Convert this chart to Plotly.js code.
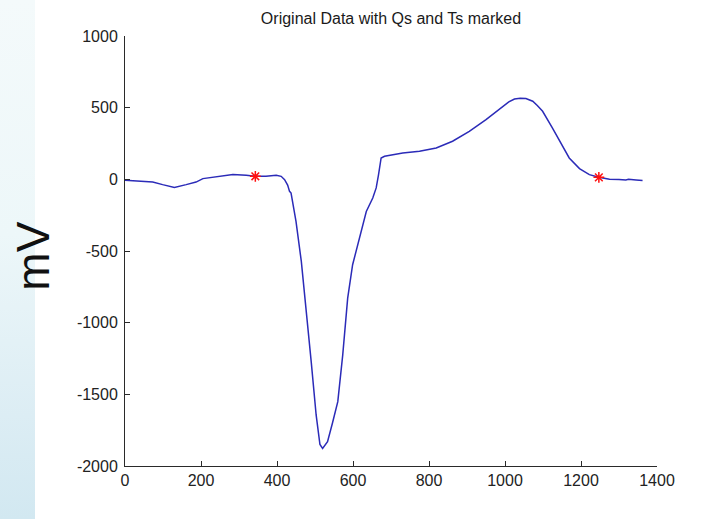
<!DOCTYPE html>
<html>
<head>
<meta charset="utf-8">
<script src="https://cdn.plot.ly/plotly-3.0.1.min.js"></script>
<style>
  html, body { margin: 0; padding: 0; background: #ffffff; }
  #strip { position: absolute; left: 0; top: 0; width: 35px; height: 519px;
    background: linear-gradient(to bottom, #f4fafb 0%, #edf7f9 45%, #dcedf4 80%, #d2e8f1 100%); }
  #chart { position: absolute; left: 0; top: 0; width: 721px; height: 519px; }
</style>
</head>
<body>
<div id="strip"></div>
<div id="chart"></div>
<script>
// ECG signal samples
const sampleX = [0, 20, 47, 73, 99, 130, 161, 187, 205, 231, 257, 284, 319, 342, 371, 398, 411, 420, 428, 433,
  437, 443, 450, 464, 477, 490, 503, 513, 520, 533, 546, 560, 573, 586, 599, 617, 635, 652, 661, 667, 674,
  683, 700, 731, 775, 819, 862, 906, 950, 994, 1010, 1025, 1040, 1055, 1065, 1073, 1085, 1099, 1125, 1152, 1169, 1196,
  1222, 1247, 1275, 1300, 1318, 1325, 1335, 1345, 1362];
const sampleY = [-7, -9, -14, -19, -37, -56, -37, -19, 5, 14, 28, 33, 28, 21, 21, 28, 21, -2, -40, -84,
  -96, -180, -293, -573, -899, -1272, -1644, -1850, -1877, -1831, -1700, -1551, -1225, -829, -596, -410, -224, -130, -60, 30, 149,
  161, 170, 184, 196, 219, 266, 335, 417, 510, 540, 560, 566, 564, 556, 545, 515, 475, 358, 231, 149, 75,
  33, 14, 0, -2, -5, 0, 0, -5, -9];

// Marked Q and T points
const markX = [343, 1247];
const markY = [21, 14];

const xTicks = [0, 200, 400, 600, 800, 1000, 1200, 1400];
const yTicks = [-2000, -1500, -1000, -500, 0, 500, 1000];

const axisCommon = {
  showgrid: false, zeroline: false, showline: true, linecolor: '#2a2a2a', linewidth: 1,
  ticks: 'inside', ticklen: 5, tickcolor: '#2a2a2a', tickwidth: 1, mirror: false,
  tickfont: {family: 'Liberation Sans, Arial, sans-serif', size: 16, color: '#222222'}
};

const data = [
  {x: sampleX, y: sampleY, type: 'scatter', mode: 'lines',
   line: {color: '#2b2bb8', width: 1.5}, hoverinfo: 'skip'},
  {x: markX, y: markY, type: 'scatter', mode: 'markers',
   marker: {symbol: 'asterisk-open', size: 9, color: '#ff1010', line: {color: '#ff1010', width: 1.5}}}
];

const layout = {
  width: 721, height: 519,
  margin: {l: 125, r: 64, t: 36, b: 53, pad: 0},
  paper_bgcolor: 'rgba(0,0,0,0)', plot_bgcolor: 'rgba(0,0,0,0)',
  showlegend: false,
  title: {text: 'Original Data with Qs and Ts marked', x: 0.5, xref: 'paper',
          y: 0.965, yanchor: 'middle',
          font: {family: 'Liberation Sans, Arial, sans-serif', size: 16, color: '#1a1a1a'}},
  xaxis: Object.assign({}, axisCommon, {range: [0, 1400], tickvals: xTicks, ticktext: xTicks.map(String)}),
  yaxis: Object.assign({}, axisCommon, {range: [-2000, 1000], tickvals: yTicks, ticktext: yTicks.map(String), ticklabelstandoff: 3}),
  annotations: [{
    text: 'mV', xref: 'paper', yref: 'paper', x: -0.172, y: 0.488,
    xanchor: 'center', yanchor: 'middle', textangle: -90, showarrow: false,
    font: {family: 'Liberation Sans, Arial, sans-serif', size: 46, color: '#111111'}
  }]
};

Plotly.newPlot('chart', data, layout, {staticPlot: true, displayModeBar: false});
</script>
</body>
</html>
